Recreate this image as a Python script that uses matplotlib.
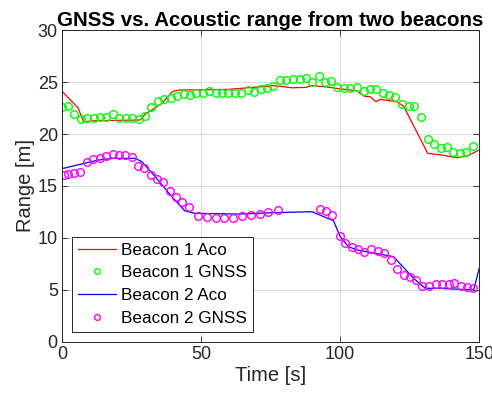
import matplotlib
matplotlib.use("Agg")
import matplotlib.pyplot as plt

plt.rcParams["font.family"] = ["Liberation Sans", "DejaVu Sans"]

# Beacon 1 acoustic range (line)
b1_aco_t = [0, 5.9, 7.7, 11.9, 28.1, 29.9, 35.9, 39.7, 41.8, 60, 76, 78.4, 82.6, 87.7, 89.9,
            92.3, 94.6, 98.8, 106, 108.6, 110.8, 112.9, 114.4, 120.4, 122.8, 131.5, 136,
            142, 145.6, 150]
b1_aco_r = [24.13, 22.47, 21.18, 21.28, 21.35, 21.9, 22.95, 24.07, 24.23, 24.3, 24.65, 24.6,
            24.45, 24.49, 24.68, 24.6, 24.55, 24.39, 24.16, 23.65, 23.59, 23.11, 23.33, 23.11,
            22.69, 18.14, 18.0, 17.72, 17.88, 18.46]

# Beacon 1 GNSS range (circles)
b1_gnss_t = [0, 2.05, 4.4, 6.8, 9.1, 11.4, 13.8, 15.9, 18.2, 20.6, 22.9, 25.3, 27.6, 29.9,
             32.1, 34.5, 36.8, 39.1, 41.4, 43.8, 46.0, 48.3, 50.6, 52.9, 55.3, 57.6, 59.8,
             62.2, 64.5, 66.8, 69.1, 71.5, 73.8, 76.0, 78.4, 80.7, 83.0, 85.4, 87.7, 89.9,
             92.3, 94.6, 96.8, 99.0, 101.4, 103.7, 106.0, 108.4, 110.7, 112.9, 115.4, 117.6,
             119.9, 122.2, 124.6, 126.7, 129.1, 131.7, 133.6, 136.1, 138.5, 140.5, 143.1,
             145.4, 147.7]
b1_gnss_r = [22.57, 22.7, 21.9, 21.4, 21.57, 21.57, 21.66, 21.66, 21.95, 21.57, 21.57, 21.5,
             21.47, 21.76, 22.57, 23.2, 23.37, 23.49, 23.65, 23.81, 23.78, 23.94, 23.97, 24.16,
             23.97, 23.91, 23.91, 23.91, 23.91, 24.26, 24.07, 24.35, 24.45, 24.62, 25.16, 25.22,
             25.29, 25.29, 25.35, 24.97, 25.55, 24.97, 25.13, 24.49, 24.42, 24.45, 24.49, 24.16,
             24.35, 24.35, 23.91, 23.72, 23.58, 22.88, 22.72, 22.72, 21.63, 19.52, 19.04, 18.62,
             18.72, 18.3, 18.2, 18.3, 18.88]

# Beacon 2 acoustic range (line)
b2_aco_t = [0, 13.1, 18.5, 26.3, 28.7, 33.5, 39.5, 44.2, 47.8, 63.4, 76, 89.8, 97.6, 100,
            103, 106, 119.2, 126.4, 130.6, 134.8, 148, 150]
b2_aco_r = [16.67, 17.5, 17.66, 17.66, 17.34, 15.9, 13.97, 12.6, 12.37, 12.3, 12.43, 12.53,
            11.66, 10.13, 9.16, 8.85, 8.2, 6.12, 5.16, 5.16, 5.0, 7.08]

# Beacon 2 GNSS range (circles)
b2_gnss_t = [0.6, 2.05, 4.3, 6.6, 8.9, 11.3, 13.6, 15.9, 18.2, 20.5, 22.8, 25.1, 27.3, 29.6,
             31.9, 34.2, 36.4, 38.8, 41.1, 43.3, 45.7, 48.8, 52.2, 55.3, 58.4, 61.5, 64.7,
             68.0, 71.1, 74.2, 77.8, 92.8, 95.0, 97.2, 99.8, 101.8, 104.2, 106.6, 108.7,
             111.2, 113.6, 115.8, 118.2, 120.4, 122.8, 125.2, 127.3, 129.6, 132, 134.4,
             136.6, 139.0, 141.0, 143.4, 145.7, 147.8]
b2_gnss_r = [16.1, 16.15, 16.28, 16.38, 17.28, 17.6, 17.72, 17.91, 18.05, 17.98, 17.98, 17.82,
             16.95, 16.76, 16.06, 15.67, 15.36, 14.52, 13.97, 13.49, 12.95, 12.15, 12.05, 11.95,
             11.89, 11.95, 12.15, 12.21, 12.31, 12.53, 12.69, 12.79, 12.63, 12.18, 10.19, 9.55,
             9.1, 8.94, 8.63, 8.94, 8.78, 8.59, 7.88, 6.99, 6.44, 6.22, 5.96, 5.38, 5.38, 5.55,
             5.55, 5.55, 5.64, 5.41, 5.32, 5.16]

fig = plt.figure(figsize=(4.92, 4.07), dpi=100)
ax = fig.add_axes([0.126, 0.160, 0.848, 0.766])

ax.plot(b1_aco_t, b1_aco_r, color="#ff0000", lw=0.9, label="Beacon 1 Aco")
ax.plot(b1_gnss_t, b1_gnss_r, "o", color="#00ff00", mfc="none", ms=5.5, mew=1.0,
        label="Beacon 1 GNSS")
ax.plot(b2_aco_t, b2_aco_r, color="#0000ff", lw=0.9, label="Beacon 2 Aco")
ax.plot(b2_gnss_t, b2_gnss_r, "o", color="#ff00ff", mfc="none", ms=5.5, mew=1.0,
        label="Beacon 2 GNSS")

ax.set_xlim(0, 150)
ax.set_ylim(0, 30)
ax.set_xticks([0, 50, 100, 150])
ax.set_yticks(range(0, 31, 5))
ax.grid(True, color="#dcdcdc", lw=0.8)
ax.set_axisbelow(True)
ax.tick_params(direction="in", top=True, right=True, length=4, width=0.6,
               labelsize=13, colors="#262626", pad=3)
for s in ax.spines.values():
    s.set_color("#262626")
    s.set_linewidth(0.7)

ax.set_xlabel("Time [s]", fontsize=14.5, color="#262626", labelpad=2)
ax.set_ylabel("Range [m]", fontsize=14.5, color="#262626", labelpad=2)
ax.set_title("GNSS vs. Acoustic range from two beacons", fontsize=14.8,
             fontweight="bold", pad=3)

leg = ax.legend(loc="lower left", fontsize=12.3, numpoints=1, fancybox=False,
                framealpha=1, edgecolor="#262626", borderpad=0.35, labelspacing=0.45,
                handlelength=2.2, handletextpad=0.3, borderaxespad=0.6,
                markerscale=0.75)
leg.get_frame().set_linewidth(0.7)

fig.savefig("out.png", dpi=100)
